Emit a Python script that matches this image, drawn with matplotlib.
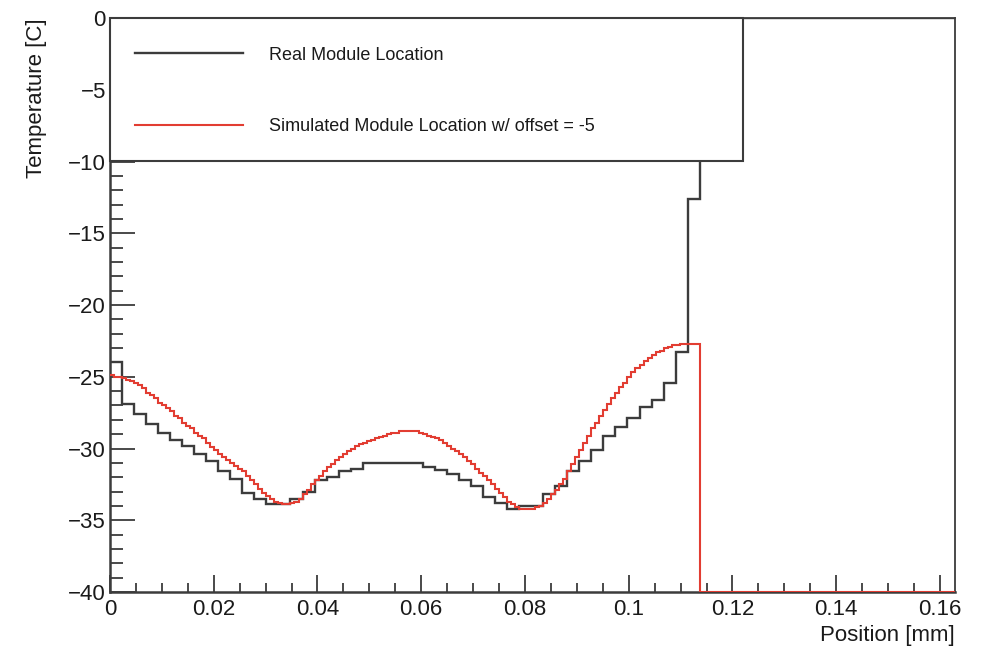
import numpy as np
import matplotlib
matplotlib.use("Agg")
import matplotlib.pyplot as plt
from matplotlib.ticker import MultipleLocator, FuncFormatter
from matplotlib.patches import Rectangle
from matplotlib.lines import Line2D

plt.rcParams['font.family'] = ['Liberation Sans', 'DejaVu Sans']

# ---------------- data ----------------
BIN_REAL = 0.00232          # bin width of the measured histogram [mm]
BIN_SIM = BIN_REAL / 3.0    # bin width of the simulated histogram [mm]

real_temp = [
    -24.0, -26.9, -27.6, -28.3, -28.9, -29.4, -29.8, -30.4, -30.9, -31.6,
    -32.1, -33.1, -33.5, -33.9, -33.9, -33.5, -33.0, -32.2, -32.0, -31.6,
    -31.4, -31.0, -31.0, -31.0, -31.0, -31.0, -31.3, -31.5, -31.8, -32.2,
    -32.6, -33.4, -33.8, -34.2, -34.0, -34.0, -33.2, -32.6, -31.6, -30.9,
    -30.1, -29.1, -28.5, -27.9, -27.1, -26.6, -25.4, -23.3, -12.6,
]
real_tail = [0.0] * 23      # empty bins after the module

sim_temp = [
    -24.9, -25.0, -25.0, -25.1, -25.2, -25.3, -25.4, -25.6, -25.8, -26.1,
    -26.3, -26.5, -26.8, -27.0, -27.2, -27.4, -27.7, -27.9, -28.2, -28.4,
    -28.6, -28.9, -29.1, -29.3, -29.6, -29.9, -30.1, -30.4, -30.6, -30.8,
    -31.0, -31.2, -31.4, -31.6, -31.9, -32.2, -32.5, -32.8, -33.1, -33.3,
    -33.5, -33.7, -33.8, -33.9, -33.9, -33.8, -33.7, -33.5, -33.2, -32.9,
    -32.5, -32.2, -31.9, -31.6, -31.3, -31.1, -30.8, -30.6, -30.4, -30.2,
    -30.0, -29.8, -29.7, -29.6, -29.5, -29.4, -29.3, -29.2, -29.1, -29.0,
    -28.9, -28.9, -28.8, -28.8, -28.8, -28.8, -28.8, -28.9, -29.0, -29.1,
    -29.2, -29.3, -29.4, -29.6, -29.8, -30.0, -30.2, -30.4, -30.6, -30.9,
    -31.1, -31.4, -31.7, -31.9, -32.2, -32.5, -32.8, -33.1, -33.4, -33.7,
    -33.9, -34.1, -34.2, -34.2, -34.2, -34.2, -34.1, -34.0, -33.8, -33.5,
    -33.2, -32.9, -32.5, -32.1, -31.6, -31.1, -30.6, -30.1, -29.6, -29.1,
    -28.6, -28.2, -27.7, -27.3, -26.9, -26.5, -26.1, -25.7, -25.4, -25.0,
    -24.7, -24.4, -24.2, -23.9, -23.7, -23.5, -23.3, -23.2, -23.0, -22.9,
    -22.8, -22.8, -22.7, -22.7, -22.7, -22.7, -22.7,
]
sim_tail = [-40.0] * 70     # empty bins after the module

labels = ["Real Module Location", "Simulated Module Location w/ offset = -5"]
x_label = "Position [mm]"
y_label = "Temperature [C]"
x_range = (0.0, 0.1629)
y_range = (-40.0, 0.0)

# ---------------- figure ----------------
fig = plt.figure(figsize=(9.87, 6.48), dpi=100)
ax = fig.add_axes([0.1114, 0.0864, 0.8562, 0.8858])

BLACK = '#3c3c3c'
RED = '#e23d32'
TEXT = '#1a1a1a'

real_vals = np.array(real_temp + real_tail)
real_edges = np.arange(len(real_vals) + 1) * BIN_REAL
sim_vals = np.array(sim_temp + sim_tail)
sim_edges = np.arange(len(sim_vals) + 1) * BIN_SIM

ax.stairs(real_vals, real_edges, baseline=None, color=BLACK, lw=1.7, zorder=2.6)
ax.stairs(sim_vals, sim_edges, baseline=None, color=RED, lw=1.5, zorder=2.7)

ax.set_xlim(*x_range)
ax.set_ylim(*y_range)

# ticks (ROOT style: inside, no ticks on top/right)
ax.xaxis.set_major_locator(MultipleLocator(0.02))
ax.xaxis.set_minor_locator(MultipleLocator(0.005))
ax.yaxis.set_major_locator(MultipleLocator(5))
ax.yaxis.set_minor_locator(MultipleLocator(1))
fmt = FuncFormatter(lambda v, p: ('%g' % round(v, 6)).replace('-', '\u2212'))
ax.xaxis.set_major_formatter(fmt)
ax.yaxis.set_major_formatter(fmt)
ax.tick_params(axis='x', which='major', direction='in', length=12, width=1.3,
               color=BLACK, labelsize=16, pad=5, labelcolor=TEXT)
ax.tick_params(axis='x', which='minor', direction='in', length=6.5, width=1.3, color=BLACK)
ax.tick_params(axis='y', which='major', direction='in', length=18, width=1.3,
               color=BLACK, labelsize=16, pad=3, labelcolor=TEXT)
ax.tick_params(axis='y', which='minor', direction='in', length=9.5, width=1.3, color=BLACK)

for s in ax.spines.values():
    s.set_color(BLACK)
    s.set_linewidth(1.3)
ax.spines['left'].set_linewidth(1.8)
ax.spines['bottom'].set_linewidth(1.8)

ax.set_xlabel(x_label, fontsize=16, loc='right', color=TEXT)
ax.xaxis.set_label_coords(1.0, -0.057)
ax.set_ylabel(y_label, fontsize=16, loc='top', color=TEXT)
ax.yaxis.set_label_coords(-0.075, 1.0)

# legend box
box = Rectangle((0.0, 0.751), 0.749, 0.249, transform=ax.transAxes,
                facecolor='white', edgecolor=BLACK, lw=1.5, zorder=4, clip_on=False)
ax.add_patch(box)
handles = [Line2D([], [], color=BLACK, lw=1.7), Line2D([], [], color=RED, lw=1.5)]
leg = ax.legend(handles, labels, loc='upper left', bbox_to_anchor=(0.0296, 0.950),
                frameon=False, handlelength=6.0, handletextpad=1.4, labelspacing=3.03,
                borderpad=0, borderaxespad=0, fontsize=13)
for t in leg.get_texts():
    t.set_color(TEXT)
leg.set_zorder(5)

fig.savefig('out.png', dpi=100)
